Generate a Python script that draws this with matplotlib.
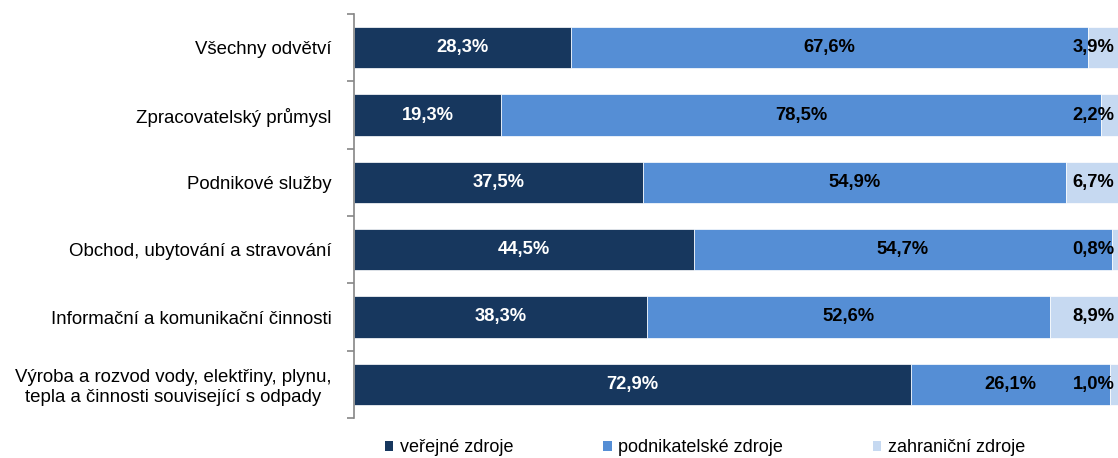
import matplotlib
matplotlib.use("Agg")
import matplotlib.pyplot as plt
from matplotlib.patches import Patch
import numpy as np

plt.rcParams['font.family'] = ['Liberation Sans', 'DejaVu Sans']

categories = [
    "Všechny odvětví",
    "Zpracovatelský průmysl",
    "Podnikové služby",
    "Obchod, ubytování a stravování",
    "Informační a komunikační činnosti",
    "Výroba a rozvod vody, elektřiny, plynu,\ntepla a činnosti související s odpady",
]
verejne = [28.3, 19.3, 37.5, 44.5, 38.3, 72.9]
podnikatelske = [67.6, 78.5, 54.9, 54.7, 52.6, 26.1]
zahranicni = [3.9, 2.2, 6.7, 0.8, 8.9, 1.0]
series_names = ["veřejné zdroje", "podnikatelské zdroje", "zahraniční zdroje"]
colors = ["#17375E", "#558ED5", "#C6D9F1"]

fig = plt.figure(figsize=(11.18, 4.58), dpi=100)
ax = fig.add_axes([354/1118, 1 - 418/458, 1 - 354/1118, 404/458])

y = np.arange(len(categories))
v = np.array(verejne)
p = np.array(podnikatelske)
z = np.array(zahranicni)
tot = v + p + z
vs, ps, zs = v / tot * 100, p / tot * 100, z / tot * 100

h = 0.61
ax.barh(y, vs, height=h, color=colors[0], edgecolor='white', linewidth=0.5)
ax.barh(y, ps, left=vs, height=h, color=colors[1], edgecolor='white', linewidth=0.5)
ax.barh(y, zs, left=vs + ps, height=h, color=colors[2], edgecolor='white', linewidth=0.5)

lfs = 13.2
fmt = lambda x: f"{x:.1f}%".replace('.', ',')
for i in range(len(categories)):
    ax.text(vs[i] / 2, y[i], fmt(v[i]), ha='center', va='center', color='white',
            fontweight='bold', fontsize=lfs)
    ax.text(vs[i] + ps[i] / 2, y[i], fmt(p[i]), ha='center', va='center', color='black',
            fontweight='bold', fontsize=lfs)
    ax.annotate(fmt(z[i]), xy=(100, y[i]), xytext=(-2.5, 0), textcoords='offset points',
                ha='right', va='center', color='black', fontweight='bold', fontsize=lfs)

ax.set_xlim(0, 100)
ax.set_ylim(len(categories) - 0.5, -0.5)
ax.set_yticks(y)
ax.set_yticklabels(categories, fontsize=13.4, ha='right', multialignment='center')
ax.tick_params(axis='y', which='major', length=0, pad=16)
ax.set_yticks(np.arange(-0.5, len(categories), 1), minor=True)
ax.tick_params(axis='y', which='minor', length=5, color='#868686', width=1.2)
ax.set_xticks([])
for s in ['top', 'right', 'bottom']:
    ax.spines[s].set_visible(False)
ax.spines['left'].set_color('#868686')
ax.spines['left'].set_linewidth(1.2)

handles = [Patch(facecolor=c, edgecolor='none') for c in colors]
fig.legend(handles, series_names, loc='center', bbox_to_anchor=(705/1118, 10/458),
           ncol=3, frameon=False, fontsize=13, handlelength=0.45, handleheight=0.45,
           handletextpad=0.35, columnspacing=5.0)

fig.savefig("out.png", dpi=100)
